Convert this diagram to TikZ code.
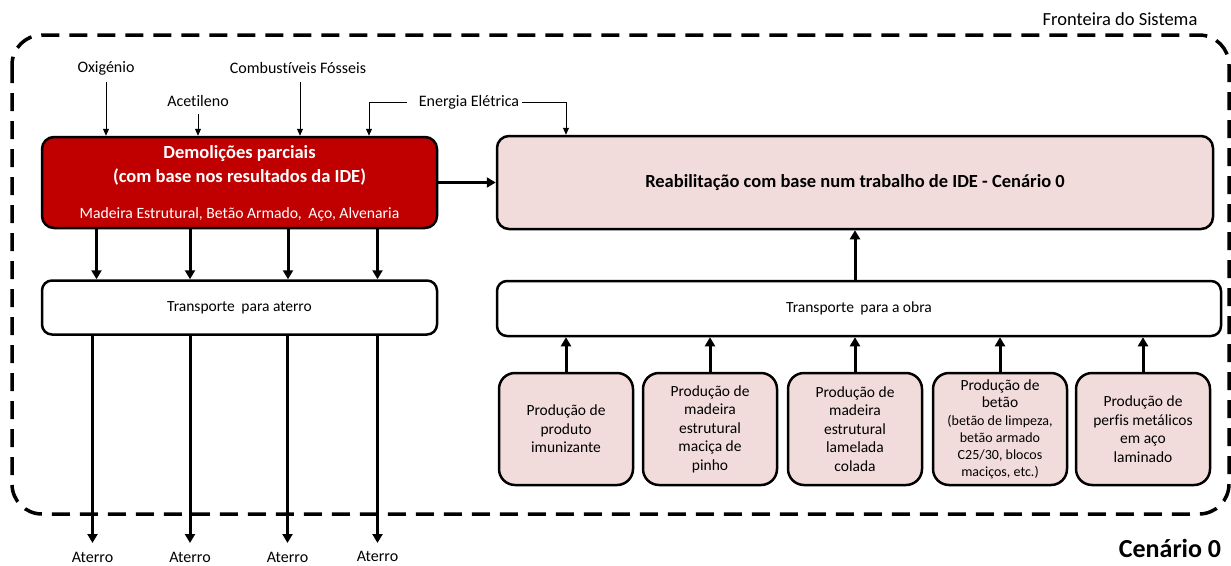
\documentclass[tikz,border=0pt]{standalone}
\usepackage{fontspec}
\setmainfont{Carlito}[Ligatures=NoCommon]
\usetikzlibrary{arrows.meta}
\definecolor{demred}{HTML}{C00000}
\definecolor{pinkfill}{HTML}{F2DCDB}
\newcommand\smallprod{\fontsize{14}{15.7}\selectfont}
\begin{document}
\begin{tikzpicture}[x=1pt,y=-1pt,
  box/.style={draw=black, line width=2.5pt, rounded corners=12pt, inner sep=0pt, align=center},
  txt/.style={font=\fontsize{16}{18.5}\selectfont, inner sep=0pt, align=center},
  inarrow/.style={line width=1pt, -{Triangle[width=6pt,length=7pt]}},
  flow/.style={line width=3pt, -{Triangle[width=10pt,length=9pt]}},
  boundary/.style={line width=3.5pt, dash pattern=on 18pt off 10pt, rounded corners=30pt},
  prod/.style={box, fill=pinkfill, minimum width=134pt, minimum height=112pt, rounded corners=16pt, font=\fontsize{15.5}{18.5}\selectfont},
]
\useasboundingbox (0,0) rectangle (1231,565);

% system boundary
\draw[boundary] (12,35) rectangle (1229,514);
\node[txt, font=\fontsize{18.5}{22}\selectfont] (front) at (1120,19) {Fronteira do Sistema};
\node[inner sep=0pt, font=\fontsize{26}{30}\selectfont\bfseries] (cen) at (1170,548) {Cenário 0};

% main boxes
\node[box, fill=demred, minimum width=395pt, minimum height=91pt] (dem) at (239.5,182.5) {};
\node[txt, text=white, font=\fontsize{18.5}{24}\selectfont\bfseries] (demt) at (239.5,165) {Demolições parciais\\(com base nos resultados da IDE)};
\node[txt, text=white, font=\fontsize{15.7}{18}\selectfont] (dems) at (239.5,214) {Madeira Estrutural, Betão Armado,\hspace{3pt} Aço, Alvenaria};

\node[box, fill=pinkfill, minimum width=716pt, minimum height=93pt, font=\fontsize{18.5}{22}\selectfont\bfseries] (reab) at (855,182.5) {Reabilitação com base num trabalho de IDE - Cenário 0};

\node[box, fill=white, rounded corners=10pt, minimum width=395pt, minimum height=54pt, font=\fontsize{15.5}{18}\selectfont] (ta) at (239.5,307.5) {Transporte\hspace{3pt} para aterro};
\node[box, fill=white, rounded corners=10pt, minimum width=724pt, minimum height=55pt, font=\fontsize{15.5}{18}\selectfont] (to) at (859,308.5) {Transporte\hspace{3pt} para a obra};

% production boxes
\node[prod] (p1) at (566,429) {Produção de\\produto\\imunizante};
\node[prod] (p2) at (710,429) {Produção de\\madeira\\estrutural\\maciça de\\pinho};
\node[prod] (p3) at (855,429) {Produção de\\madeira\\estrutural\\lamelada\\colada};
\node[prod, font=\fontsize{15.5}{17}\selectfont] (p4) at (1000,429) {Produção de\\betão\\[1pt]\smallprod (betão de limpeza,\\\smallprod betão armado\\\smallprod C25/30, blocos\\\smallprod maciços, etc.)};
\node[prod] (p5) at (1143,429) {Produção de\\perfis metálicos\\em aço\\laminado};

% inputs
\node[txt] (oxi) at (106,68) {Oxigénio};
\node[txt] (acet) at (198,101) {Acetileno};
\node[txt] (comb) at (298,68) {Combustíveis Fósseis};
\node[txt] (energ) at (469,102) {Energia Elétrica};
\coordinate (cx) at (300,0);
\coordinate (e1) at (369,0);
\coordinate (e2) at (566,0);

\draw[inarrow] ([yshift=-14pt]oxi.center) -- (dem.north -| oxi);
\draw[inarrow] ([yshift=-13pt]acet.center) -- (dem.north -| acet);
\draw[inarrow] ([yshift=-14pt]comb.center -| cx) -- (dem.north -| cx);
\draw[inarrow] ([xshift=-12pt]energ.west) -| (dem.north -| e1);
\draw[inarrow] ([xshift=3pt]energ.east) -| (reab.north -| e2);

% demolition to rehabilitation
\draw[flow] (dem.east) -- (reab.west);

% demolition to transport to landfill
\coordinate (d1) at (96.5,0);
\coordinate (d2) at (190,0);
\coordinate (d3) at (288,0);
\coordinate (d4) at (377.5,0);
\foreach \d in {d1,d2,d3,d4}
  \draw[flow] (dem.south -| \d) -- (ta.north -| \d);

% landfill outputs
\node[txt] (a1) at (92.5,557) {Aterro};
\node[txt] (a2) at (190,557) {Aterro};
\node[txt] (a3) at (287.5,557) {Aterro};
\node[txt] (a4) at (377.5,556.5) {Aterro};
\foreach \a in {a1,a2,a3}
  \draw[flow] (ta.south -| \a) -- ([yshift=14pt]\a.center);
\draw[flow] (ta.south -| a4) -- ([yshift=13.5pt]a4.center);

% production to transport
\foreach \p in {p1,p2,p3,p4,p5}
  \draw[flow] (\p.north) -- (to.south -| \p);

% transport to rehabilitation
\draw[flow] (to.north -| p3) -- (reab.south -| p3);
\end{tikzpicture}
\end{document}
